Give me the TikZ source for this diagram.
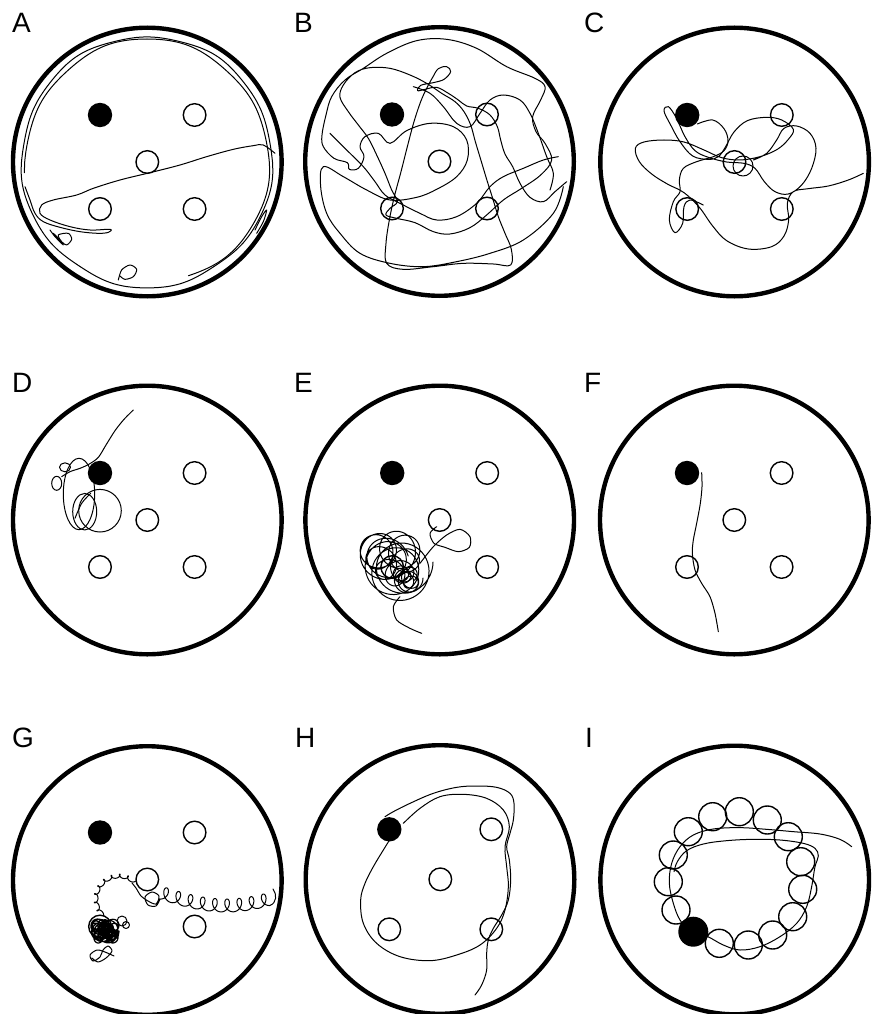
\documentclass[tikz,border=0pt]{standalone}
\usepackage{fontspec}
\setmainfont{Liberation Sans}
\newcommand\fivewells[4]{%
  \fill[goal] ({#1-#3},{#2-#4}) circle[radius=12.2pt];
  \draw[well] ({#1+#3},{#2-#4}) circle[radius=11.3pt];
  \draw[well] (#1,#2) circle[radius=11.3pt];
  \draw[well] ({#1-#3},{#2+#4}) circle[radius=11.3pt];
  \draw[well] ({#1+#3},{#2+#4}) circle[radius=11.3pt];
}
\begin{document}
\begin{tikzpicture}[x=1pt,y=-1pt,
  arena/.style={line width=4.4pt},
  well/.style={line width=1.4pt},
  goal/.style={fill=black},
  track/.style={line width=1pt, line join=round, line cap=round},
  lbl/.style={font=\fontsize{28}{32}\selectfont, inner sep=0pt, anchor=base west}]
\useasboundingbox (0,0) rectangle (875,1014);
\fill[white] (0,0) rectangle (875,1014);

% ---------- labels
\node[lbl] (labA) at (12,33) {A};
\node[lbl] (labB) at (294,33) {B};
\node[lbl] (labC) at (584,33) {C};
\node[lbl] (labD) at (12,392) {D};
\node[lbl] (labE) at (294,392) {E};
\node[lbl] (labF) at (584,392) {F};
\node[lbl] (labG) at (12,747) {G};
\node[lbl] (labH) at (295,747) {H};
\node[lbl] (labI) at (585,747) {I};

% ---------- A tracks
\begin{scope}[shift={(147,162)}]
\draw[track] plot[smooth, domain=0:360, samples=73] (\x:{125.5+0.9*sin(5*\x)+0.5*sin(11*\x)});
\draw[track] plot[smooth, domain=175:430, samples=52] (\x:{122.3+1.3*sin(3*\x)+0.6*sin(9*\x)});
\end{scope}
\begin{scope}[shift={(0,0)}, scale=1/3]
\draw[track] plot[smooth, tension=0.6] coordinates {(825,460) (790,435) (760,437) (700,448) (620,470) (540,495) (450,518) (360,540) (280,565) (230,585) (160,600) (125,615) (120,640) (150,660) (210,680) (270,690) (330,688) (325,697) (295,700) (240,695) (180,682) (130,665) (105,640) (90,600) (75,560)};
\draw[track] plot[smooth cycle] coordinates {(175,705) (205,700) (215,718) (200,735) (185,725)};
\draw[track] plot[smooth] coordinates {(150,690) (165,710) (190,735) (175,715) (160,700)};
\draw[track] plot[smooth] coordinates {(355,840) (365,810) (390,795) (410,808) (400,830) (375,838) (360,828)};
\draw[track] plot[smooth] coordinates {(765,690) (785,650) (800,630) (790,665) (770,700)};
\end{scope}

% ---------- B track
\begin{scope}[shift={(290,0)}, scale=1/3]
\draw[track] plot[smooth, tension=0.6] coordinates {(830,545) (795,575) (760,605) (720,592) (690,550) (668,500) (645,462) (632,420) (622,380) (600,345) (565,325) (530,318) (505,300) (475,280) (440,262) (405,268) (383,272) (392,256) (430,248) (462,238) (482,215) (470,200) (445,206) (428,232) (410,265) (392,305) (372,365) (352,440) (333,515) (313,590) (298,660) (288,730) (290,790) (340,808) (430,800) (520,790) (610,792) (662,795) (664,748) (645,700) (625,650) (608,595) (590,538) (572,478) (556,425) (542,375) (522,335) (495,305) (455,280) (410,250) (360,225) (300,205) (240,203) (195,218) (160,255) (150,292) (175,335) (205,375) (235,415) (260,465) (285,520) (305,570) (322,605) (300,625) (288,645) (320,655) (375,668) (430,695) (480,702) (540,683) (590,645) (640,600) (695,565) (752,525) (785,480) (765,430) (738,395) (728,350) (752,300) (765,260) (735,235) (650,200) (560,145) (470,118) (380,122) (290,160) (220,205) (165,240) (125,290) (108,345) (96,405) (100,440) (132,475) (172,488) (178,508) (205,505) (222,470) (210,440) (225,410) (265,400) (300,430) (350,392) (420,370) (490,380) (530,420) (532,480) (500,530) (440,568) (380,592) (300,600) (230,570) (160,530) (100,500) (92,560) (110,640) (150,700) (210,760) (300,790) (400,800) (500,785) (600,760) (700,720) (790,640) (820,560)};
\draw[track] plot[smooth, tension=0.6] coordinates {(120,400) (170,450) (220,500) (255,545) (285,585) (330,610) (390,640) (440,660) (500,650) (560,610) (600,560) (640,530) (700,505) (760,480) (805,470)};
\draw[track] plot[smooth, tension=0.6] coordinates {(370,260) (420,280) (460,320) (500,370) (540,380) (570,340) (600,300) (640,285) (690,300) (720,340) (745,400) (770,470) (790,520) (780,570)};
\end{scope}

% ---------- C track
\begin{scope}[shift={(580,0)}, scale=1/3]
\draw[track] plot[smooth, tension=0.6] coordinates {(850,520) (805,540) (745,558) (685,566) (640,575) (622,610) (626,660) (612,708) (575,740) (505,747) (440,722) (398,678) (358,622) (312,578) (262,552) (215,522) (178,485) (166,445) (192,426) (252,420) (312,426) (372,450) (425,473) (480,480) (540,470) (592,448) (625,418) (640,388) (605,360) (560,352) (502,362) (462,396) (437,440) (415,470) (385,478) (338,468) (300,425) (272,375) (252,333) (265,320) (288,352) (315,410) (345,452) (385,472) (440,486) (492,490) (525,505) (553,545) (585,575) (625,582) (665,555) (695,505) (708,445) (690,400) (650,378) (612,385) (590,420) (560,460) (520,480)};
\draw[track] plot[smooth, tension=0.6] coordinates {(352,372) (398,360) (432,386) (444,422) (432,452) (400,470) (350,485) (310,505) (298,540) (300,575) (280,605) (268,660) (285,698) (308,670) (312,620) (330,600) (370,615)};
\end{scope}
\draw[track] (743,166) circle[radius=10pt];

% ---------- D track
\begin{scope}[shift={(0,330)}, scale=1/3]
\draw[track] plot[smooth] coordinates {(400,240) (372,268) (345,302) (318,345) (295,382) (268,402) (240,415) (210,425) (185,440)};
\draw[track] plot[smooth] coordinates {(225,565) (245,520) (272,490)};
\end{scope}
\draw[track] (79,494) ellipse[x radius=15.7pt, y radius=35.7pt];
\draw[track] (100,510.7) circle[radius=21.3pt];
\draw[track] (84.7,511.7) ellipse[x radius=12pt, y radius=18.3pt];
\draw[track] (65,467.3) ellipse[x radius=5.5pt, y radius=4.5pt];
\draw[track] (56.7,483.3) ellipse[x radius=5pt, y radius=7pt];

% ---------- E track
\draw[track] plot[smooth, domain=0:4300, samples=520] ({391+14*cos(0.11*\x)+(20+8*cos(0.07*\x))*cos(\x)}, {562+12*sin(0.17*\x)+(20+8*cos(0.07*\x))*sin(\x)});
\draw[track] plot[smooth, domain=0:2200, samples=260] ({406+5*cos(0.2*\x)+(9+3*cos(0.13*\x))*cos(\x)}, {578+5*sin(0.27*\x)+(9+3*cos(0.13*\x))*sin(\x)});
\begin{scope}[shift={(290,330)}, scale=1/3]
\draw[track] plot[smooth] coordinates {(330,800) (310,830) (320,870) (360,895) (395,910)};
\draw[track] plot[smooth] coordinates {(390,700) (430,650) (470,615) (510,598) (540,620) (538,652) (505,665) (465,652) (432,640) (420,610) (440,590)};
\end{scope}

% ---------- F track
\begin{scope}[shift={(580,330)}, scale=1/3]
\draw[track] plot[smooth] coordinates {(365,428) (366,470) (361,520) (350,580) (340,630) (337,670) (345,720) (365,760) (390,800) (405,850) (415,905)};
\end{scope}

% ---------- G track
\draw[track] plot[smooth, domain=0:3240, samples=330] ({160+(\x/360)*12.2+5*sin(\x)}, {899+13*sin(\x/3240*150)-6.5*(1-cos(\x))});
\draw[track] (269.8,905.5) .. controls (277,903) and (277,894) .. (273,889);
\draw[track] plot[smooth] coordinates {(160,899) (156,906) (148,905) (145,897) (152,892) (159,896) (156,904) (148,901) (141,896) (136,888) (132,883)};
\draw[track] plot[smooth, domain=0:172, samples=360] ({119+23*cos(-51-\x)+2*cos(17*\x)}, {899+23*sin(-51-\x)+2*sin(17*\x)});
\draw[track, line width=1.2pt] plot[smooth, domain=0:9000, samples=900] ({105+8*cos(0.23*\x)+6*cos(\x)}, {931+6*sin(0.29*\x)+6*sin(\x)});
\draw[track, line width=1.2pt] plot[smooth, domain=0:5000, samples=600] ({106+4*cos(0.31*\x)+4*cos(\x)}, {931+4*sin(0.19*\x)+4*sin(\x)});
\draw[track] (122,921) circle[radius=5pt];
\draw[track] (126,925) circle[radius=3.5pt];
\draw[track] plot[smooth] coordinates {(114,956) (105,952) (97,950) (90,955) (93,961) (100,957) (103,950) (108,946) (112,951) (106,958) (98,962) (92,958)};

% ---------- H track
\begin{scope}[shift={(290,680)}, scale=1/3]
\draw[track] plot[smooth, tension=0.6] coordinates {(555,945) (575,915) (590,870) (590,820) (595,780) (610,745) (635,705) (655,660) (662,600) (658,540) (650,500) (660,460) (670,420) (672,370) (660,340) (620,322) (560,318) (500,322) (430,340) (360,370) (310,395) (285,410)};
\draw[track] plot[smooth, tension=0.6] coordinates {(305,470) (280,510) (250,560) (225,610) (212,660) (220,730) (260,790) (330,830) (420,842) (500,825) (570,795) (620,745) (645,690) (655,620) (650,560) (645,500) (658,440) (640,390) (590,355) (520,343) (450,350) (390,385) (340,430)};
\end{scope}

% ---------- I track
\begin{scope}[shift={(580,680)}, scale=1/3]
\draw[track] plot[smooth, tension=0.6] coordinates {(815,500) (780,478) (720,462) (640,455) (560,448) (480,443) (400,447) (340,465) (300,500) (275,550) (268,610) (280,670) (300,720) (330,750) (380,768) (430,795) (480,810) (540,800) (600,770) (650,730) (680,680) (695,620) (705,560) (715,528) (705,505) (670,490) (600,480) (520,478) (440,482) (370,492) (320,512) (292,545) (282,575)};
\end{scope}

% ---------- wells
\fivewells{147.3}{162}{47.3}{47}
\fivewells{439.5}{161.5}{47.5}{47}
\fivewells{734.5}{162}{47.3}{47}
\fivewells{147.3}{520}{47.3}{47}
\fivewells{439.7}{520}{47.5}{47}
\fivewells{734.3}{520}{47.3}{47}
\fivewells{147.3}{879.5}{47.3}{47}
\fivewells{440.3}{879.3}{51}{50}
\foreach \p in {(712.7,816.7),(739.3,811.7),(767.3,820),(788.3,836.7),(800.7,861.7),(802.7,889.3),(792.7,916.7),(772.7,935),(748.3,945),(719.3,943.3),(676,910),(668.3,881.7),(673.3,855),(688.3,831.7)}
  \draw[well] \p circle[radius=14pt];
\fill[goal] (693.3,931.7) circle[radius=15pt];

% ---------- arenas
\draw[arena] (147.3,162) circle[radius=134.3pt];
\draw[arena] (439.5,161.5) circle[radius=134.3pt];
\draw[arena] (734.6,162) circle[radius=134.3pt];
\draw[arena] (147.3,520) circle[radius=134.3pt];
\draw[arena] (439.7,520) circle[radius=134.3pt];
\draw[arena] (734.3,520) circle[radius=134.3pt];
\draw[arena] (147.3,880.5) circle[radius=134.3pt];
\draw[arena] (440,879.5) circle[radius=134.3pt];
\draw[arena] (734.7,880) circle[radius=134.3pt];
\end{tikzpicture}
\end{document}
